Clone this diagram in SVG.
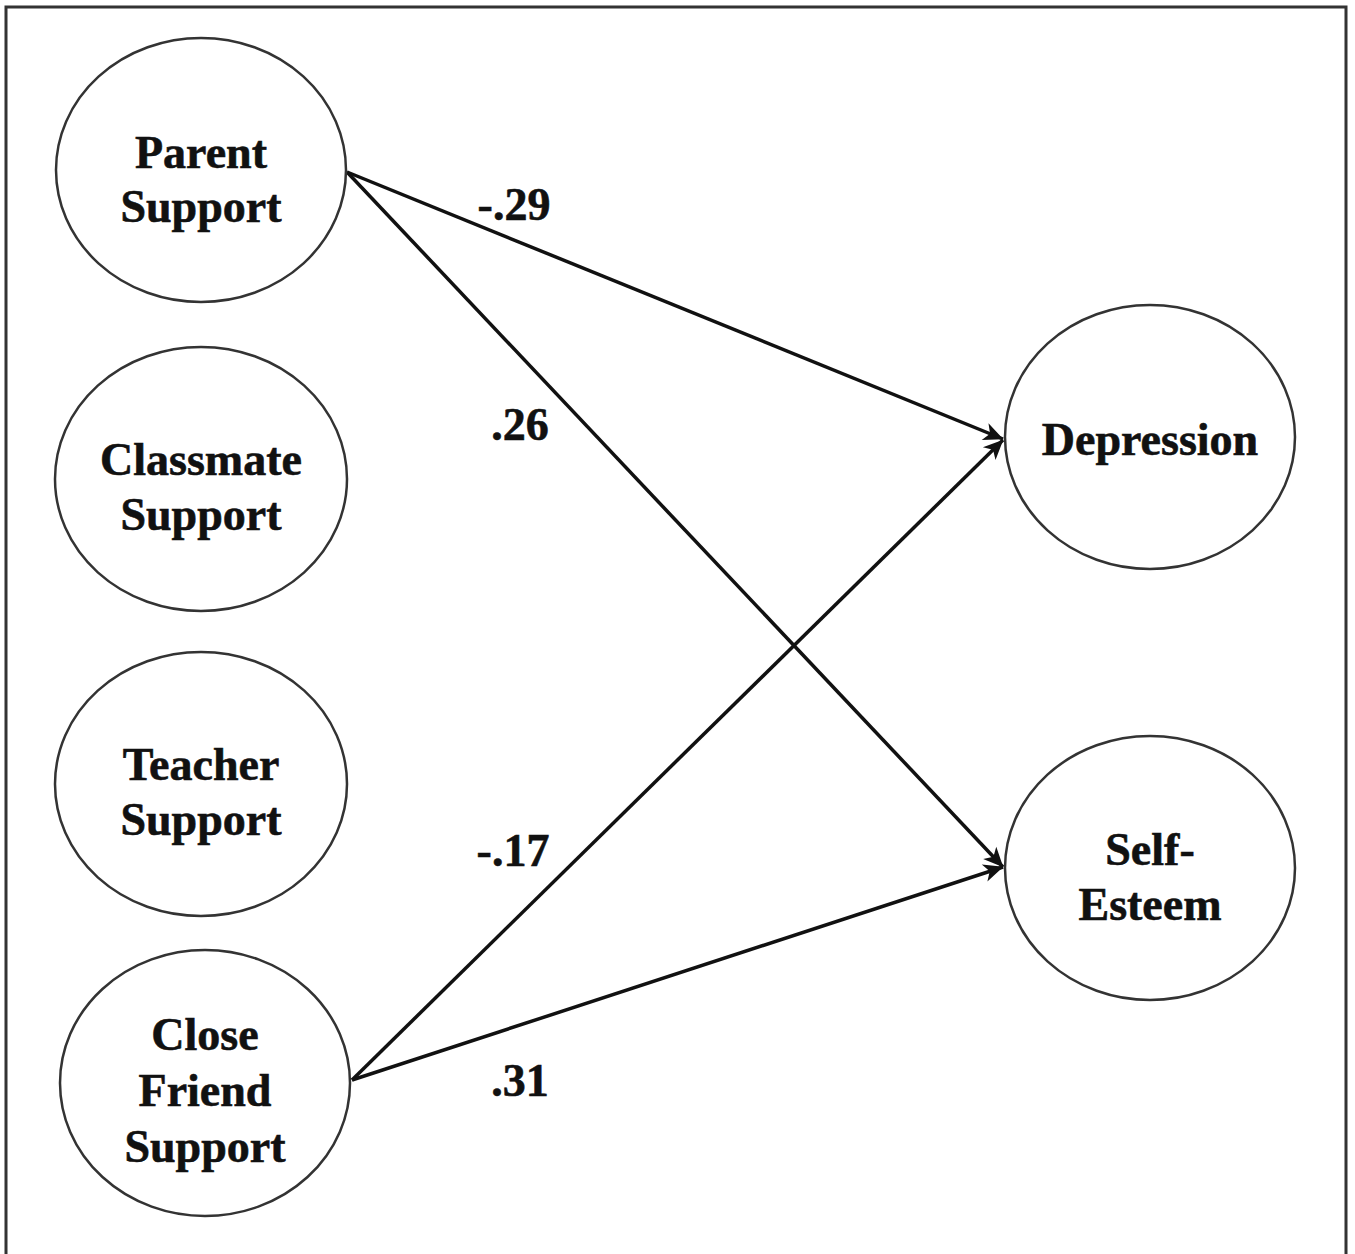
<svg xmlns="http://www.w3.org/2000/svg" width="1355" height="1254" viewBox="0 0 1355 1254">
<style>
.node{fill:#fff;stroke:#333;stroke-width:2.5}
.lbl{font-family:"Liberation Serif","Times New Roman",serif;font-weight:bold;font-size:46px;fill:#111;text-anchor:middle;stroke:#111;stroke-width:0.6}
.edge{stroke:#111;stroke-width:3.5;fill:none;marker-end:url(#arr)}
</style>
<defs>
<marker id="arr" viewBox="0 0 10 10" refX="9.5" refY="5" markerWidth="9" markerHeight="9" markerUnits="userSpaceOnUse" orient="auto" overflow="visible">
<path d="M-20,-5 L2,5 L-20,15 L-14,5 Z" fill="#111" transform="translate(8,0)"/>
</marker>
</defs>
<rect width="1355" height="1254" fill="#fff"/>
<path d="M6,1254 V7 H1346 V1254" fill="none" stroke="#333" stroke-width="3"/>
<g id="connectors">
<line class="edge" x1="347" y1="172" x2="1003" y2="439"/>
<line class="edge" x1="347" y1="172" x2="1003" y2="867"/>
<line class="edge" x1="352" y1="1080" x2="1003" y2="440"/>
<line class="edge" x1="352" y1="1080" x2="1003" y2="867"/>
</g>
<g id="edge-labels">
<text class="lbl" x="514" y="220">-.29</text>
<text class="lbl" x="520" y="440">.26</text>
<text class="lbl" x="513" y="866">-.17</text>
<text class="lbl" x="520" y="1096">.31</text>
</g>
<g id="parent">
<ellipse class="node" cx="201" cy="170" rx="145" ry="132"/>
<text class="lbl" x="201" y="168">Parent</text>
<text class="lbl" x="201" y="222">Support</text>
</g>
<g id="classmate">
<ellipse class="node" cx="201" cy="479" rx="146" ry="132"/>
<text class="lbl" x="201" y="475">Classmate</text>
<text class="lbl" x="201" y="530">Support</text>
</g>
<g id="teacher">
<ellipse class="node" cx="201" cy="784" rx="146" ry="132"/>
<text class="lbl" x="201" y="780">Teacher</text>
<text class="lbl" x="201" y="835">Support</text>
</g>
<g id="closefriend">
<ellipse class="node" cx="205" cy="1083" rx="145" ry="133"/>
<text class="lbl" x="205" y="1050">Close</text>
<text class="lbl" x="205" y="1106">Friend</text>
<text class="lbl" x="205" y="1162">Support</text>
</g>
<g id="depression">
<ellipse class="node" cx="1150" cy="437" rx="145" ry="132"/>
<text class="lbl" x="1150" y="455">Depression</text>
</g>
<g id="selfesteem">
<ellipse class="node" cx="1150" cy="868" rx="145" ry="132"/>
<text class="lbl" x="1150" y="865">Self-</text>
<text class="lbl" x="1150" y="920">Esteem</text>
</g>
</svg>
